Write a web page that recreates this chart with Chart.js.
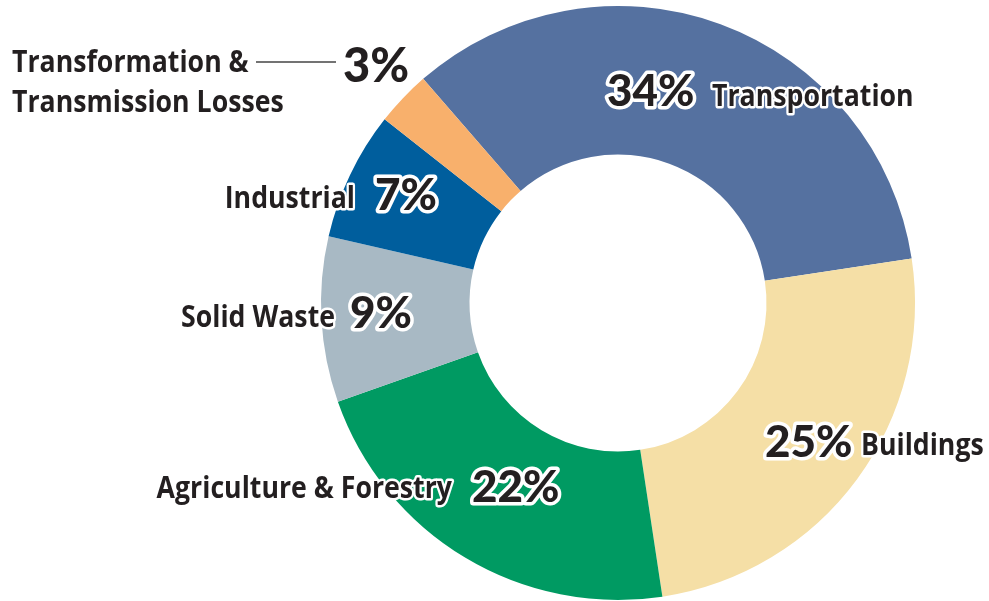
<!DOCTYPE html>
<html lang="en">
<head>
<meta charset="UTF-8">
<title>Emissions by sector</title>
<script src="https://cdn.jsdelivr.net/npm/chart.js"></script>
<style>
    body { margin: 0; background: #fff; }
    #wrap { position: relative; width: 989px; height: 601px; }
</style>
</head>
<body>
<div id="wrap"><canvas id="sectorChart"></canvas></div>
<script>
    // data
    const sectors = ['Transportation', 'Buildings', 'Agriculture & Forestry', 'Solid Waste', 'Industrial', 'Transformation & Transmission Losses'];
    const shares = [34, 25, 22, 9, 7, 3];
    const sectorColors = ['#5571a0', '#f5dfa6', '#009a62', '#a8b9c4', '#005e9d', '#f8b06c'];

    const INK = '#231f20';
    const NAME_FONT = '700 30px "Open Sans", sans-serif';
    const PCT_FONT = '900 44px Lato, sans-serif';
    const SQUEEZE = 0.89;

    // where each label sits, as offsets from the doughnut centre
    const labelSpots = [
        { pct: [-11, -197, 'left'], name: [94, -197, 'left'] },
        { pct: [147, 154, 'left'], name: [243, 152, 'left'] },
        { pct: [-146, 199, 'left'], name: [-166, 195, 'right'] },
        { pct: [-268, 25, 'left'], name: [-283, 24, 'right'] },
        { pct: [-243, -93, 'left'], name: [-263, -95, 'right'] },
        { pct: [-275, -221, 'left'], name: [-606, -231, 'left'] }
    ];

    function drawLabel(ctx, text, x, y, align, font, squeeze, outline) {
        ctx.save();
        ctx.translate(x, y);
        ctx.scale(squeeze, 1);
        ctx.font = font;
        ctx.textAlign = align;
        ctx.textBaseline = 'alphabetic';
        if (outline) {
            ctx.lineJoin = 'round';
            ctx.lineWidth = outline;
            ctx.strokeStyle = '#fff';
            ctx.strokeText(text, 0, 0);
        }
        ctx.fillStyle = INK;
        ctx.fillText(text, 0, 0);
        ctx.restore();
    }

    const sectorLabels = {
        id: 'sectorLabels',
        afterDraw(chart) {
            const ctx = chart.ctx;
            const arc = chart.getDatasetMeta(0).data[0];
            const cx = arc.x, cy = arc.y;

            labelSpots.forEach((spot, i) => {
                const [px, py, pa] = spot.pct;
                const [nx, ny, na] = spot.name;
                if (i === sectors.length - 1) {
                    // the small slice gets its label up in the corner, two lines and a leader
                    const words = sectors[i].split('& ');
                    drawLabel(ctx, words[0] + '&', cx + nx, cy + ny, na, NAME_FONT, SQUEEZE, 0);
                    drawLabel(ctx, words[1], cx + nx, cy + ny + 40, na, NAME_FONT, SQUEEZE, 0);
                    ctx.save();
                    ctx.strokeStyle = '#444';
                    ctx.lineWidth = 1.5;
                    ctx.beginPath();
                    ctx.moveTo(cx - 362, cy - 241);
                    ctx.lineTo(cx - 282, cy - 241);
                    ctx.stroke();
                    ctx.restore();
                    drawLabel(ctx, shares[i] + '%', cx + px, cy + py, pa, '900 47px Lato, sans-serif', 1.0, 0);
                } else {
                    drawLabel(ctx, sectors[i], cx + nx, cy + ny, na, NAME_FONT, SQUEEZE, 5);
                    drawLabel(ctx, shares[i] + '%', cx + px, cy + py, pa, PCT_FONT, 1.0, 7);
                }
            });
        }
    };

    new Chart(document.getElementById('sectorChart'), {
        type: 'doughnut',
        data: {
            labels: sectors,
            datasets: [{
                data: shares,
                backgroundColor: sectorColors,
                borderWidth: 0
            }]
        },
        options: {
            responsive: true,
            maintainAspectRatio: false,
            animation: false,
            cutout: '50%',
            rotation: -41,
            layout: { padding: { left: 321, right: 74, top: 6, bottom: 1 } },
            plugins: {
                legend: { display: false },
                tooltip: { enabled: false }
            }
        },
        plugins: [sectorLabels]
    });
</script>
</body>
</html>
